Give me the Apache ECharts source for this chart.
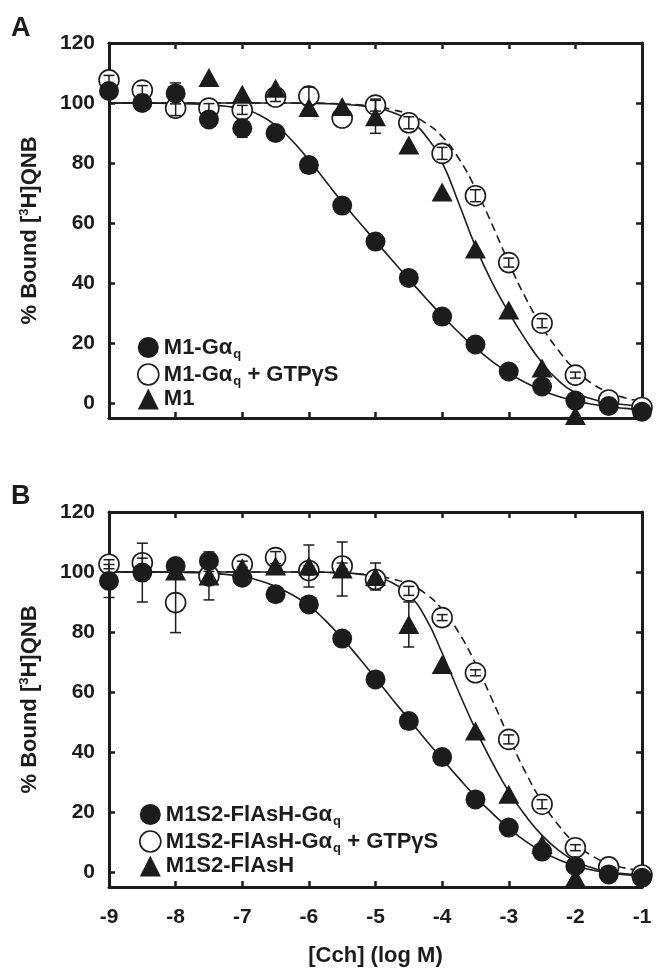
<!DOCTYPE html>
<html lang="en">
<head>
<meta charset="utf-8" />
<script src="https://cdn.jsdelivr.net/npm/echarts@6/dist/echarts.min.js"></script>
<style>
    body { margin: 0; background: #fff; overflow: hidden; }
    .box { width: 658px; height: 969px; }
</style>
</head>
<body>
<div class="box"></div>
<script>
// x positions of the measured points, log M
var logCch = [-9, -8.5, -8, -7.5, -7, -6.5, -6, -5.5, -5, -4.5, -4, -3.5, -3, -2.5, -2, -1.5, -1];
var yTicks = [0, 20, 40, 60, 80, 100, 120];

// panel A
var aFilled    = [104, 100, 103.2, 94.5, 91.6, 90, 79.3, 65.8, 53.8, 41.7, 28.8, 19.5, 10.5, 5.5, 0.8, -1, -2.9];
var aFilledErr = [0, 0, 3.5, 0, 3, 0, 0, 0, 0, 0, 0, 0, 0, 0, 0, 0, 0];
var aOpen      = [107.7, 104.3, 98.3, 98.3, 97.7, 102, 102.3, 95, 99.3, 93.4, 83.2, 69.1, 46.8, 26.6, 9.3, 1, -1.5];
var aOpenErr   = [1.5, 1.5, 2.5, 1.5, 1.5, 1.5, 3, 0, 2, 2, 2, 2, 1.5, 1.5, 1, 0, 0];
var aTri       = [null, null, null, 108.5, 102.9, 104.9, 98.5, 98.8, 95.4, 86, 70.3, 51.3, 31, 11.7, -4.2, null, null];
var aTriErr    = [0, 0, 0, 0, 0, 0, 0, 0, 5.5, 0, 0, 0, 0, 0, 0, 0, 0];

// panel B
var bFilled    = [97, 99.8, 102, 103.7, 98.1, 92.6, 89.2, 77.8, 64.2, 50.3, 38.3, 24.2, 14.8, 6.8, 2, -0.8, -1.9];
var bFilledErr = [5.5, 9.8, 0, 0, 0, 0, 0, 0, 0, 0, 0, 0, 0, 0, 0, 0, 0];
var bOpen      = [102.6, 103.1, 89.8, 98.7, 102.6, 104.8, 100.5, 102, 97.5, 93.7, 84.8, 66.4, 44.2, 22.6, 8.1, 1.7, -1];
var bOpenErr   = [1.5, 1.5, 10, 1.5, 1, 2, 1.5, 1, 1, 1.5, 1, 1, 1.5, 1.5, 1, 0, 0];
var bTri       = [null, null, 100.3, 98.7, 101.4, 102, 102, 101, 98.5, 82.5, 69.2, 47, 25.9, 9.2, -1.9, null, null];
var bTriErr    = [0, 0, 0, 8, 0, 0, 7, 9, 4.5, 7.5, 0, 0, 0, 0, 0, 0, 0];

// fitted curves, every 0.25 log unit
var curveX = [-9, -8.75, -8.5, -8.25, -8, -7.75, -7.5, -7.25, -7, -6.75, -6.5, -6.25, -6, -5.75, -5.5, -5.25,
              -5, -4.75, -4.5, -4.25, -4, -3.75, -3.5, -3.25, -3, -2.75, -2.5, -2.25, -2, -1.75, -1.5, -1.25, -1];
var aFilledFit = [100, 100, 100, 99.9, 99.8, 99.7, 99.4, 98.9, 98, 96.1, 92.6, 87.4, 81, 74, 67, 60.4,
                  54, 47.6, 41.3, 35.1, 29.1, 23.5, 18.4, 13.9, 10, 6.8, 4.2, 2.2, 0.7, -0.4, -1.2, -1.8, -2.3];
var aTriFit    = [100, 100, 100, 100, 100, 100, 100, 100, 100, 100, 100, 100, 99.9, 99.8, 99.6, 99.2,
                  98.4, 96.9, 94.2, 89.2, 80.2, 66.6, 52.2, 40.2, 30.2, 21.2, 13.4, 7.4, 3.5, 1.3, 0.1, -0.6, -1.1];
var aOpenFit   = [100, 100, 100, 100, 100, 100, 100, 100, 100, 100, 100, 100, 100, 99.9, 99.7, 99.4,
                  98.8, 97.8, 96.2, 93.4, 88.8, 81.5, 71.5, 59.5, 46.8, 35.2, 25.4, 17.4, 11, 6.5, 3.6, 1.7, 0.5];
var bFilledFit = [100, 100, 100, 100, 99.9, 99.8, 99.6, 99.2, 98.5, 97.2, 95.2, 92.4, 88.8, 83.8, 77.9, 71.4,
                  64.6, 57.7, 50.9, 44.2, 37.7, 31.3, 25.2, 19.6, 14.6, 10.3, 6.8, 4.1, 2.1, 0.7, -0.3, -0.9, -1.4];
var bTriFit    = [100, 100, 100, 100, 100, 100, 100, 100, 100, 100, 100, 100, 100, 99.9, 99.7, 99.3,
                  98.4, 96.4, 92.4, 84.8, 73, 60, 47.6, 36.6, 26.8, 18.8, 12.2, 7.2, 3.6, 1.4, 0.1, -0.6, -1.1];
var bOpenFit   = [100, 100, 100, 100, 100, 100, 100, 100, 100, 100, 100, 100, 100, 99.9, 99.7, 99.4,
                  98.8, 97.7, 95.9, 92.8, 87.6, 79.8, 69.5, 57.5, 45, 33.3, 23.4, 15.5, 9.5, 5.4, 2.8, 1.3, 0.4];

var ink = '#1c1c1c';
var font = 'Liberation Sans, Arial, sans-serif';

function pairs(xs, ys) {
    var out = [];
    for (var i = 0; i < xs.length; i++) {
        if (ys[i] !== null) out.push([xs[i], ys[i]]);
    }
    return out;
}
function errs(xs, ys, es) {
    var out = [];
    for (var i = 0; i < xs.length; i++) {
        if (ys[i] !== null && es[i] > 0) out.push([xs[i], ys[i], es[i]]);
    }
    return out;
}

// vertical error bar with caps
function errorBar(params, api) {
    var x = api.value(0), y = api.value(1), e = api.value(2);
    var hi = api.coord([x, y + e]);
    var lo = api.coord([x, y - e]);
    var w = 5.5;
    var st = { stroke: ink, lineWidth: 1.5 };
    return {
        type: 'group',
        children: [
            { type: 'line', shape: { x1: hi[0], y1: hi[1], x2: lo[0], y2: lo[1] }, style: st },
            { type: 'line', shape: { x1: hi[0] - w, y1: hi[1], x2: hi[0] + w, y2: hi[1] }, style: st },
            { type: 'line', shape: { x1: lo[0] - w, y1: lo[1], x2: lo[0] + w, y2: lo[1] }, style: st }
        ]
    };
}

var axisLine = { onZero: false, lineStyle: { color: ink, width: 3 } };
var tick = { inside: true, length: 6, lineStyle: { color: ink, width: 2.5 } };
var labelStyle = { color: ink, fontFamily: font, fontWeight: 'bold', fontSize: 21 };

function xAxes(grid, showLabels) {
    return [{
        gridIndex: grid, type: 'value', position: 'bottom', min: -9, max: -1, interval: 1,
        axisLine: axisLine, axisTick: tick, splitLine: { show: false },
        axisLabel: Object.assign({ show: showLabels, margin: 20 }, labelStyle),
        name: showLabels ? '[Cch] (log M)' : '', nameLocation: 'middle', nameGap: 58,
        nameTextStyle: { color: ink, fontFamily: font, fontWeight: 'bold', fontSize: 22 }
    }, {
        gridIndex: grid, type: 'value', position: 'top', min: -9, max: -1, interval: 1,
        axisLine: axisLine, axisTick: tick, splitLine: { show: false }, axisLabel: { show: false }
    }];
}
function yAxes(grid) {
    return [{
        gridIndex: grid, type: 'value', position: 'left', min: -5, max: 120,
        axisLine: axisLine, splitLine: { show: false },
        axisTick: Object.assign({ customValues: yTicks }, tick),
        axisLabel: Object.assign({ customValues: yTicks, margin: 14 }, labelStyle),
        name: '{b|% Bound [}{sup|3}{b|H]QNB}', nameLocation: 'middle', nameRotate: 90, nameGap: 68,
        nameTextStyle: {
            rich: {
                b: { color: ink, fontFamily: font, fontWeight: 'bold', fontSize: 22 },
                sup: { color: ink, fontFamily: font, fontWeight: 'bold', fontSize: 13, padding: [0, 0, 10, 0] }
            }
        }
    }, {
        gridIndex: grid, type: 'value', position: 'right', min: -5, max: 120,
        axisLine: axisLine, splitLine: { show: false },
        axisTick: Object.assign({ customValues: yTicks }, tick),
        axisLabel: { show: false }
    }];
}

function panelSeries(ax, names, filled, filledErr, open, openErr, tri, triErr, fFit, oFit, tFit) {
    var lineBase = { type: 'line', xAxisIndex: ax, yAxisIndex: ax, showSymbol: false, symbol: 'none',
                     smooth: 0.5, silent: true, z: 1 };
    return [
        Object.assign({ data: pairs(curveX, fFit), lineStyle: { color: ink, width: 1.6 } }, lineBase),
        Object.assign({ data: pairs(curveX, tFit), lineStyle: { color: ink, width: 1.6 } }, lineBase),
        Object.assign({ data: pairs(curveX, oFit), lineStyle: { color: ink, width: 1.6, type: [8, 5] } }, lineBase),
        {
            name: names[1], type: 'scatter', xAxisIndex: ax, yAxisIndex: ax, symbol: 'circle', symbolSize: 20,
            itemStyle: { color: '#fff', borderColor: ink, borderWidth: 1.6, opacity: 1 },
            data: pairs(logCch, open), clip: false, z: 2
        },
        {
            name: names[2], type: 'scatter', xAxisIndex: ax, yAxisIndex: ax, symbol: 'triangle', symbolSize: [21, 19],
            itemStyle: { color: ink, opacity: 1 }, data: pairs(logCch, tri), clip: false, z: 3
        },
        {
            name: names[0], type: 'scatter', xAxisIndex: ax, yAxisIndex: ax, symbol: 'circle', symbolSize: 20,
            itemStyle: { color: ink, opacity: 1 }, data: pairs(logCch, filled), clip: false, z: 4
        },
        {
            type: 'custom', xAxisIndex: ax, yAxisIndex: ax, renderItem: errorBar, clip: false, silent: true, z: 5,
            encode: { x: 0, y: 1 },
            data: errs(logCch, open, openErr).concat(errs(logCch, tri, triErr)).concat(errs(logCch, filled, filledErr))
        }
    ];
}

var namesA = ['M1-Gαq', 'M1-Gαq + GTPγS', 'M1'];
var namesB = ['M1S2-FlAsH-Gαq', 'M1S2-FlAsH-Gαq + GTPγS', 'M1S2-FlAsH'];

var legendRich = {
    b: { color: ink, fontFamily: font, fontWeight: 'bold', fontSize: 22, lineHeight: 27 },
    s: { color: ink, fontFamily: font, fontWeight: 'bold', fontSize: 13, lineHeight: 13, padding: [14, 0, 0, 1] }
};
function legendText(name) {
    var i = name.indexOf('αq');
    if (i < 0) return '{b|' + name + '}';
    return '{b|' + name.slice(0, i + 1) + '}{s|q}' + (name.length > i + 2 ? '{b|' + name.slice(i + 2) + '}' : '');
}
function legendFor(names, top, left) {
    return {
        orient: 'vertical', left: left, top: top, itemWidth: 21, itemHeight: 21, itemGap: 0,
        selectedMode: false, formatter: legendText, textStyle: { rich: legendRich },
        data: [
            { name: names[0], icon: 'circle', itemStyle: { color: ink } },
            { name: names[1], icon: 'circle', itemStyle: { color: '#fff', borderColor: ink, borderWidth: 1.6 } },
            { name: names[2], icon: 'triangle', itemStyle: { color: ink } }
        ]
    };
}

var myChart = echarts.init(document.querySelector('.box'), null, { renderer: 'canvas' });

var option = {
    backgroundColor: '#fff',
    animation: false,
    title: [
        { text: 'A', left: 6, top: 10, textStyle: { color: ink, fontFamily: font, fontWeight: 'bold', fontSize: 27 } },
        { text: 'B', left: 6, top: 478, textStyle: { color: ink, fontFamily: font, fontWeight: 'bold', fontSize: 27 } }
    ],
    legend: [legendFor(namesA, 329, 132), legendFor(namesB, 796, 134)],
    grid: [
        { left: 109, top: 43, width: 533, height: 375 },
        { left: 109, top: 512, width: 533, height: 375 }
    ],
    xAxis: xAxes(0, false).concat(xAxes(1, true)),
    yAxis: yAxes(0).concat(yAxes(1)),
    series: panelSeries(0, namesA, aFilled, aFilledErr, aOpen, aOpenErr, aTri, aTriErr, aFilledFit, aOpenFit, aTriFit)
        .concat(panelSeries(2, namesB, bFilled, bFilledErr, bOpen, bOpenErr, bTri, bTriErr, bFilledFit, bOpenFit, bTriFit))
};

myChart.setOption(option);
</script>
</body>
</html>
